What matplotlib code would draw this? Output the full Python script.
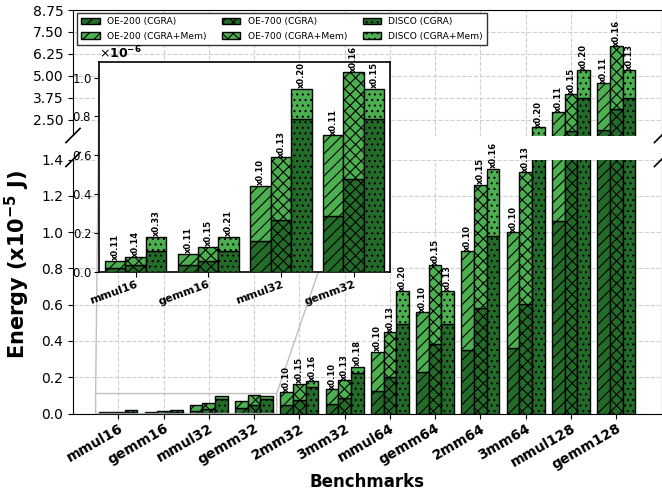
import matplotlib
matplotlib.use("Agg")
import matplotlib.pyplot as plt
import numpy as np
from matplotlib.patches import Patch
from matplotlib.ticker import ScalarFormatter

benchmarks = ['mmul16', 'gemm16', 'mmul32', 'gemm32', '2mm32', '3mm32',
              'mmul64', 'gemm64', '2mm64', '3mm64', 'mmul128', 'gemm128']

# energy in units of 1e-5 J
oe200_cgra = [0.0017, 0.0033, 0.0158, 0.0287, 0.046, 0.050, 0.122, 0.228, 0.351, 0.360, 1.06, 1.91]
oe200_total = [0.0057, 0.0093, 0.0442, 0.0703, 0.116, 0.134, 0.340, 0.558, 0.894, 1.000, 2.94, 4.57]
oe700_cgra = [0.0034, 0.0055, 0.0265, 0.0476, 0.075, 0.083, 0.202, 0.384, 0.584, 0.604, 1.83, 3.125]
oe700_total = [0.0076, 0.0129, 0.0589, 0.1027, 0.164, 0.182, 0.447, 0.817, 1.261, 1.330, 3.96, 6.69]
disco_cgra = [0.0107, 0.0107, 0.0787, 0.0787, 0.145, 0.222, 0.494, 0.494, 0.979, 1.50, 3.75, 3.75]
disco_total = [0.0180, 0.0180, 0.0942, 0.0942, 0.178, 0.257, 0.675, 0.675, 1.349, 2.06, 5.32, 5.32]

oe200_labels = ['x0.11', 'x0.11', 'x0.10', 'x0.11', 'x0.10', 'x0.10', 'x0.10', 'x0.10', 'x0.10', 'x0.10', 'x0.11', 'x0.11']
oe700_labels = ['x0.14', 'x0.15', 'x0.13', 'x0.16', 'x0.15', 'x0.13', 'x0.13', 'x0.15', 'x0.15', 'x0.13', 'x0.15', 'x0.16']
disco_labels = ['x0.33', 'x0.21', 'x0.20', 'x0.15', 'x0.16', 'x0.18', 'x0.20', 'x0.13', 'x0.16', 'x0.20', 'x0.20', 'x0.13']

series = [
    ('OE-200', oe200_cgra, oe200_total, oe200_labels, '///'),
    ('OE-700', oe700_cgra, oe700_total, oe700_labels, 'xxx'),
    ('DISCO', disco_cgra, disco_total, disco_labels, '...'),
]

DARK = '#236b28'
LIGHT = '#4caf50'
plt.rcParams['hatch.linewidth'] = 0.8

W, H = 662, 492
fig = plt.figure(figsize=(6.62, 4.92), dpi=100)

def rect(x0, y0, x1, y1):
    return [x0 / W, 1 - y1 / H, (x1 - x0) / W, (y1 - y0) / H]

ax_top = fig.add_axes(rect(73, 10, 661.5, 135.5))
ax_bot = fig.add_axes(rect(73, 159.5, 661.5, 413.5))

x = np.arange(len(benchmarks))
width = 0.28
offsets = [-width, 0, width]
LBL = 6.0

def draw_bars(ax, idx):
    for k, (name, cgra, total, labels, hatch) in enumerate(series):
        xs = x[idx] + offsets[k]
        c = np.array(cgra)[idx]
        t = np.array(total)[idx]
        ax.bar(xs, c, width, color=DARK, edgecolor='black', hatch=hatch, linewidth=1.0, zorder=3)
        ax.bar(xs, t - c, width, bottom=c, color=LIGHT, edgecolor='black', hatch=hatch, linewidth=1.0, zorder=3)

all_idx = np.arange(len(benchmarks))
for ax in (ax_top, ax_bot):
    draw_bars(ax, all_idx)
    ax.set_xlim(-1, 12)
    ax.grid(True, linestyle='--', color='#d0d0d0', linewidth=0.8)
    ax.set_axisbelow(True)
    ax.tick_params(labelsize=10)

ax_top.set_ylim(1.6, 8.75)
ax_top.set_yticks([2.5, 3.75, 5.0, 6.25, 7.5, 8.75])
ax_top.set_yticklabels(['2.50', '3.75', '5.00', '6.25', '7.50', '8.75'])
ax_bot.set_ylim(0, 1.4)
ax_bot.set_yticks(np.arange(0, 1.41, 0.2))
ax_bot.set_yticklabels([f'{v:.1f}' for v in np.arange(0, 1.41, 0.2)])

ax_top.spines['bottom'].set_visible(False)
ax_bot.spines['top'].set_visible(False)
ax_top.set_xticks(x)
ax_top.tick_params(axis='x', which='both', bottom=False, labelbottom=False)
ax_bot.set_xticks(x)
ax_bot.set_xticklabels(benchmarks, rotation=30, ha='right', rotation_mode='anchor',
                       fontweight='bold', fontsize=10)
ax_bot.tick_params(axis='x', pad=2)
ax_bot.set_xlabel('Benchmarks', fontweight='bold', fontsize=12, labelpad=1)

# break marks
d = 0.012
kw = dict(color='k', clip_on=False, linewidth=1.2)
ax_top.plot((-d, +d), (-d * 4.7, +d * 4.7), transform=ax_top.transAxes, **kw)
ax_top.plot((1 - d, 1 + d), (-d * 4.7, +d * 4.7), transform=ax_top.transAxes, **kw)
ax_bot.plot((-d, +d), (1 - d * 2.3, 1 + d * 2.3), transform=ax_bot.transAxes, **kw)
ax_bot.plot((1 - d, 1 + d), (1 - d * 2.3, 1 + d * 2.3), transform=ax_bot.transAxes, **kw)

# value labels in main axes
for k, (name, cgra, total, labels, hatch) in enumerate(series):
    for i in range(4, len(benchmarks)):
        tgt = ax_bot if total[i] <= 1.4 else ax_top
        tgt.annotate(labels[i], (x[i] + offsets[k], total[i]), xytext=(0, 0.3),
                     textcoords='offset points', rotation=90, ha='center', va='bottom',
                     fontsize=LBL, fontweight='bold', zorder=5, annotation_clip=False)

# legend
handles = []
for name, cgra, total, labels, hatch in series:
    handles.append(Patch(facecolor=DARK, edgecolor='black', hatch=hatch, label=f'{name} (CGRA)'))
    handles.append(Patch(facecolor=LIGHT, edgecolor='black', hatch=hatch, label=f'{name} (CGRA+Mem)'))
leg = ax_top.legend(handles=handles, ncol=3, loc='upper left', fontsize=6.6, fancybox=False,
                    edgecolor='0.2', framealpha=1, bbox_to_anchor=(0.007, 0.975),
                    borderaxespad=0, handlelength=2.0, handleheight=0.7, columnspacing=1.7,
                    labelspacing=0.6, borderpad=0.45)
leg.set_zorder(10)

fig.text(0.027, 0.463, r'Energy (x10$^{\mathbf{-5}}$ J)', rotation=90, fontweight='bold',
         fontsize=15, ha='center', va='center')

# inset
ax_in = fig.add_axes(rect(99.3, 62.3, 390, 271.7))
idx_in = np.arange(4)
for k, (name, cgra, total, labels, hatch) in enumerate(series):
    xs = x[idx_in] + offsets[k]
    c = np.array(cgra)[idx_in] * 1e-5
    t = np.array(total)[idx_in] * 1e-5
    ax_in.bar(xs, c, width, color=DARK, edgecolor='black', hatch=hatch, linewidth=1.0, zorder=3)
    ax_in.bar(xs, t - c, width, bottom=c, color=LIGHT, edgecolor='black', hatch=hatch, linewidth=1.0, zorder=3)
    for i in idx_in:
        ax_in.annotate(labels[i], (xs[i], t[i]), xytext=(0, 0.3), textcoords='offset points',
                       rotation=90, ha='center', va='bottom', fontsize=LBL, fontweight='bold',
                       zorder=5, annotation_clip=False)
ax_in.set_xlim(-0.5, 3.5)
ax_in.set_ylim(0, max(disco_total[:4] + oe700_total[:4]) * 1e-5 * 1.05)
fmt = ScalarFormatter(useMathText=True)
ax_in.yaxis.set_major_formatter(fmt)
ax_in.set_yticks(np.arange(0, 1.01e-6, 0.2e-6))
ax_in.tick_params(labelsize=8.5, pad=2)
ax_in.yaxis.get_offset_text().set_fontweight('bold')
ax_in.yaxis.get_offset_text().set_fontsize(9)
ax_in.set_xticks(idx_in)
ax_in.set_xticklabels(benchmarks[:4], rotation=20, ha='right', rotation_mode='anchor',
                      fontweight='bold', fontsize=8)
for s in ax_in.spines.values():
    s.set_linewidth(1.2)

ax_bot.indicate_inset(bounds=[-0.5, 0, 4, 0.11], inset_ax=ax_in, edgecolor='#b0b0b0',
                      linewidth=1.0, alpha=0.8)

fig.savefig('out.png', dpi=100)
